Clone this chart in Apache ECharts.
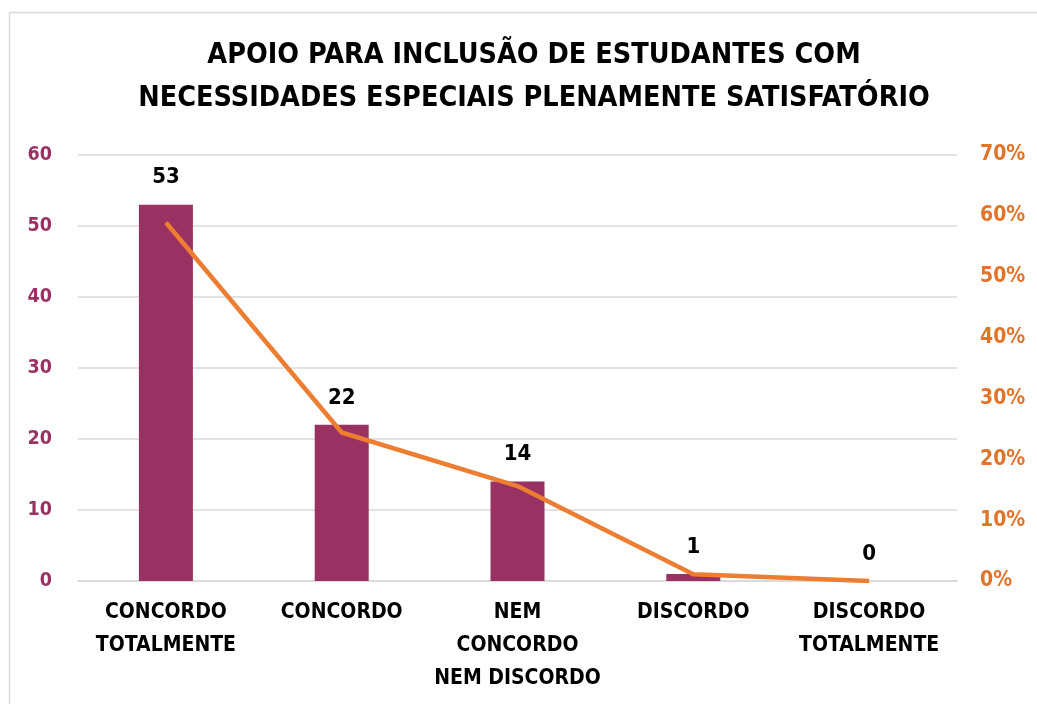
<!DOCTYPE html>
<html>
<head>
<meta charset="utf-8">
<script src="https://cdn.jsdelivr.net/npm/echarts@6/dist/echarts.min.js"></script>
<style>
  html, body { margin: 0; padding: 0; background: #ffffff; }
  #chart { width: 1037px; height: 704px; }
</style>
</head>
<body>
<div id="chart"></div>
<script>
// Respostas por categoria
const categories = ['CONCORDO\nTOTALMENTE', 'CONCORDO', 'NEM\nCONCORDO\nNEM DISCORDO', 'DISCORDO', 'DISCORDO\nTOTALMENTE'];
const counts = [53, 22, 14, 1, 0];
const percents = [58.9, 24.4, 15.6, 1.1, 0];
const leftTicks = [0, 10, 20, 30, 40, 50, 60];
const rightTicks = [0, 10, 20, 30, 40, 50, 60, 70];

const FONT = "'Liberation Sans Narrow', 'DejaVu Sans Condensed', 'Open Sans', sans-serif";
const BAR = '#993162';
const LINE = '#ED7D31';

const chart = echarts.init(document.getElementById('chart'));
chart.setOption({
  backgroundColor: '#ffffff',
  animation: false,
  graphic: [{
    type: 'rect',
    shape: { x: 9.5, y: 12.5, width: 1040, height: 700 },
    style: { fill: 'none', stroke: '#d9d9d9', lineWidth: 1.5 }
  }],
  title: {
    text: 'APOIO PARA INCLUSÃO DE ESTUDANTES COM\nNECESSIDADES ESPECIAIS PLENAMENTE SATISFATÓRIO',
    left: 529,
    textAlign: 'center',
    top: 29,
    textStyle: {
      fontFamily: FONT, fontWeight: 'bold', fontSize: 28.5, color: '#000000', lineHeight: 43
    }
  },
  grid: { left: 78, right: 80, top: 155, bottom: 123 },
  xAxis: {
    type: 'category',
    data: categories,
    axisLine: { lineStyle: { color: '#d9d9d9', width: 1.5 } },
    axisTick: { show: false },
    axisLabel: {
      interval: 0, margin: 15, fontFamily: FONT, fontWeight: 'bold', fontSize: 21,
      color: '#000000', lineHeight: 33
    }
  },
  yAxis: [{
    type: 'value', min: 0, max: 60, interval: 10,
    axisLine: { show: false }, axisTick: { show: false },
    splitLine: { lineStyle: { color: '#d9d9d9', width: 1.5 } },
    axisLabel: {
      margin: 26, fontFamily: FONT, fontWeight: 'bold', fontSize: 19.5, color: '#993162',
      customValues: leftTicks
    }
  }, {
    type: 'value', min: 0, max: 70, interval: 10, position: 'right',
    axisLine: { show: false }, axisTick: { show: false },
    splitLine: { show: false },
    axisLabel: {
      margin: 23, fontFamily: FONT, fontWeight: 'bold', fontSize: 21, color: '#E0742A',
      customValues: rightTicks, formatter: v => v + '%'
    }
  }],
  series: [{
    type: 'bar',
    data: counts,
    barWidth: 54,
    itemStyle: { color: BAR },
    label: {
      show: true, position: 'top', distance: 16,
      fontFamily: FONT, fontWeight: 'bold', fontSize: 22, color: '#000000'
    }
  }, {
    type: 'line',
    yAxisIndex: 1,
    data: percents,
    symbol: 'none',
    lineStyle: { color: LINE, width: 4.5 },
    itemStyle: { color: LINE }
  }]
});
</script>
</body>
</html>
